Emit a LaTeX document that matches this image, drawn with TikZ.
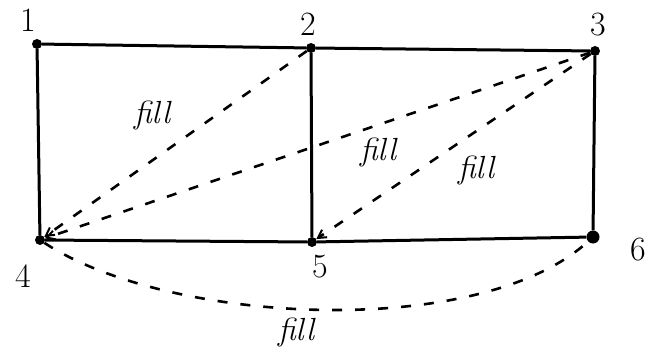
\documentclass[tikz,border=0pt]{standalone}
\usetikzlibrary{arrows.meta}
\begin{document}
\begin{tikzpicture}[x=1pt,y=-1pt,
  dotnode/.style={circle,fill=black,inner sep=0pt,minimum size=10pt},
  edge/.style={line width=3pt},
  fillline/.style={line width=2.6pt,dash pattern=on 10pt off 13pt},
  tip/.style={-{Straight Barb[length=8pt,width=9pt,line width=2pt]}},
  lbl/.style={font=\fontsize{34}{36}\selectfont},
  filllbl/.style={font=\fontsize{32}{34}\selectfont\itshape}]
\useasboundingbox (0,0) rectangle (651,353);
\node[dotnode] (n1) at (37,44) {};
\node[dotnode] (n2) at (311,48) {};
\node[dotnode] (n3) at (595,51) {};
\node[dotnode] (n4) at (40,240) {};
\node[dotnode] (n5) at (312,242) {};
\node[dotnode,minimum size=13pt] (n6) at (593,237) {};
\node[lbl] (l1) at (28,20) {1};
\node[lbl] (l2) at (308,24) {2};
\node[lbl] (l3) at (598,25) {3};
\node[lbl] (l4) at (23,276) {4};
\node[lbl] (l5) at (320,267) {5};
\node[lbl] (l6) at (638,250) {6};
\draw[edge] (n1) -- (n2) -- (n3) -- (n6) -- (n5) -- (n4) -- (n1);
\draw[edge] (n2) -- (n5);
\draw[fillline,tip] (n2) -- (n4);
\draw[fillline,tip] (n3) -- (n4);
\draw[fillline,tip] (n3) -- (n5);
\draw[fillline] (n4) .. controls (170,325) and (480,340) .. (n6);
\node[filllbl] (f1) at (152,115) {fill};
\node[filllbl] (f2) at (378,152) {fill};
\node[filllbl] (f3) at (476,170) {fill};
\node[filllbl] (f4) at (296,332) {fill};
\end{tikzpicture}
\end{document}
